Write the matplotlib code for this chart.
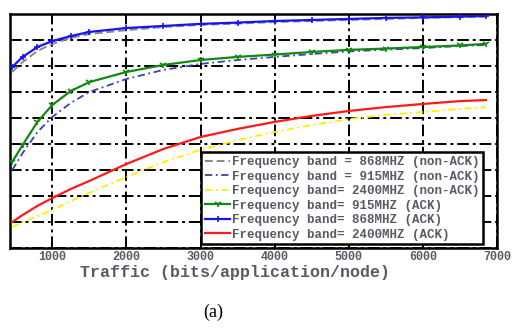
import matplotlib
matplotlib.use("Agg")
import matplotlib.pyplot as plt

traffic = [460, 600, 800, 1000, 1250, 1500, 2000, 2500, 3000, 3500, 4000, 4500, 5000, 5500, 6000, 6500, 6850]

ack_868 = [0.796, 0.835, 0.873, 0.896, 0.915, 0.931, 0.946, 0.954, 0.962, 0.967, 0.973, 0.977, 0.981, 0.985, 0.987, 0.990, 0.992]
nonack_868 = [0.777, 0.815, 0.858, 0.885, 0.908, 0.923, 0.938, 0.950, 0.958, 0.963, 0.969, 0.973, 0.977, 0.981, 0.985, 0.988, 0.990]
ack_915 = [0.431, 0.496, 0.585, 0.650, 0.704, 0.738, 0.777, 0.804, 0.823, 0.835, 0.844, 0.854, 0.862, 0.867, 0.873, 0.879, 0.885]
nonack_915 = [0.400, 0.465, 0.546, 0.604, 0.658, 0.700, 0.750, 0.785, 0.808, 0.823, 0.835, 0.846, 0.856, 0.863, 0.869, 0.877, 0.881]
ack_2400 = [0.200, 0.227, 0.262, 0.292, 0.327, 0.358, 0.423, 0.481, 0.527, 0.558, 0.585, 0.608, 0.627, 0.642, 0.654, 0.665, 0.669]
nonack_2400 = [0.181, 0.200, 0.223, 0.246, 0.281, 0.312, 0.373, 0.431, 0.477, 0.515, 0.546, 0.573, 0.596, 0.612, 0.623, 0.635, 0.642]

labels = [
    "Frequency band = 868MHZ (non-ACK)",
    "Frequency band = 915MHZ (non-ACK)",
    "Frequency band= 2400MHZ (non-ACK)",
    "Frequency band= 915MHZ (ACK)",
    "Frequency band= 868MHZ (ACK)",
    "Frequency band= 2400MHZ (ACK)",
]
xticks = [1000, 2000, 3000, 4000, 5000, 6000, 7000]
yticks = [0.1, 0.2, 0.3, 0.4, 0.5, 0.6, 0.7, 0.8, 0.9, 1.0]

txt_color = "#5a5a66"
mono = "Liberation Mono"

fig = plt.figure(figsize=(5.13, 3.29), dpi=100)
ax = fig.add_axes([10/513, 1-248/329, 487/513, 234/329])

l1, = ax.plot(traffic, nonack_868, color="#888888", ls=(0, (4, 2)), lw=1.4, zorder=3)
l2, = ax.plot(traffic, nonack_915, color="#3344aa", ls=(0, (4, 2, 1, 2)), lw=1.3, zorder=3)
l3, = ax.plot(traffic, nonack_2400, color="#ffee00", ls=(0, (4, 2, 1, 2)), lw=1.3, zorder=3)
l4, = ax.plot(traffic, ack_915, color="#118811", ls="-", lw=1.6, marker="1", ms=5, mew=1.2, zorder=4)
l5, = ax.plot(traffic, ack_868, color="#1515ee", ls="-", lw=1.6, marker="+", ms=5, mew=1.2, zorder=4)
l6, = ax.plot(traffic, ack_2400, color="#ff1a1a", ls="-", lw=1.6, zorder=4)

ax.set_xlim(430, 7000)
ax.set_ylim(0.1, 1.0)
ax.set_xticks(xticks)
ax.set_xticklabels([str(v) for v in xticks], fontfamily=mono, fontsize=8.5,
                   fontweight="bold", color=txt_color)
ax.set_yticks(yticks)
ax.set_yticklabels([])
ax.tick_params(axis="both", direction="in", length=4, width=1.2, pad=2)
ax.tick_params(axis="y", length=0)
ax.grid(True, color="black", ls=(0, (6, 2, 1.5, 2)), lw=1.4)
for s in ax.spines.values():
    s.set_linewidth(1.8)
    s.set_color("black")
ax.set_xlabel("Traffic (bits/application/node)", fontfamily=mono, fontsize=12,
              fontweight="bold", color=txt_color)
ax.xaxis.set_label_coords((235 - 10) / 487, -(265 - 248) / 234)

leg = ax.legend([l1, l2, l3, l4, l5, l6], labels, loc="lower right",
                bbox_to_anchor=(0.972, 0.015),
                prop={"family": mono, "size": 9, "weight": "bold"},
                frameon=True, fancybox=False, framealpha=1, edgecolor="black",
                handlelength=2.0, handletextpad=0.15, labelspacing=0.2,
                borderpad=0.3, borderaxespad=0)
leg.get_frame().set_linewidth(1.8)
for t in leg.get_texts():
    t.set_color(txt_color)
leg.set_zorder(10)

fig.text(213/513, 1-312/329, "(a)", fontfamily="Liberation Serif", fontsize=13,
         ha="center", va="center", color="black")

fig.savefig("out.png", dpi=100)
